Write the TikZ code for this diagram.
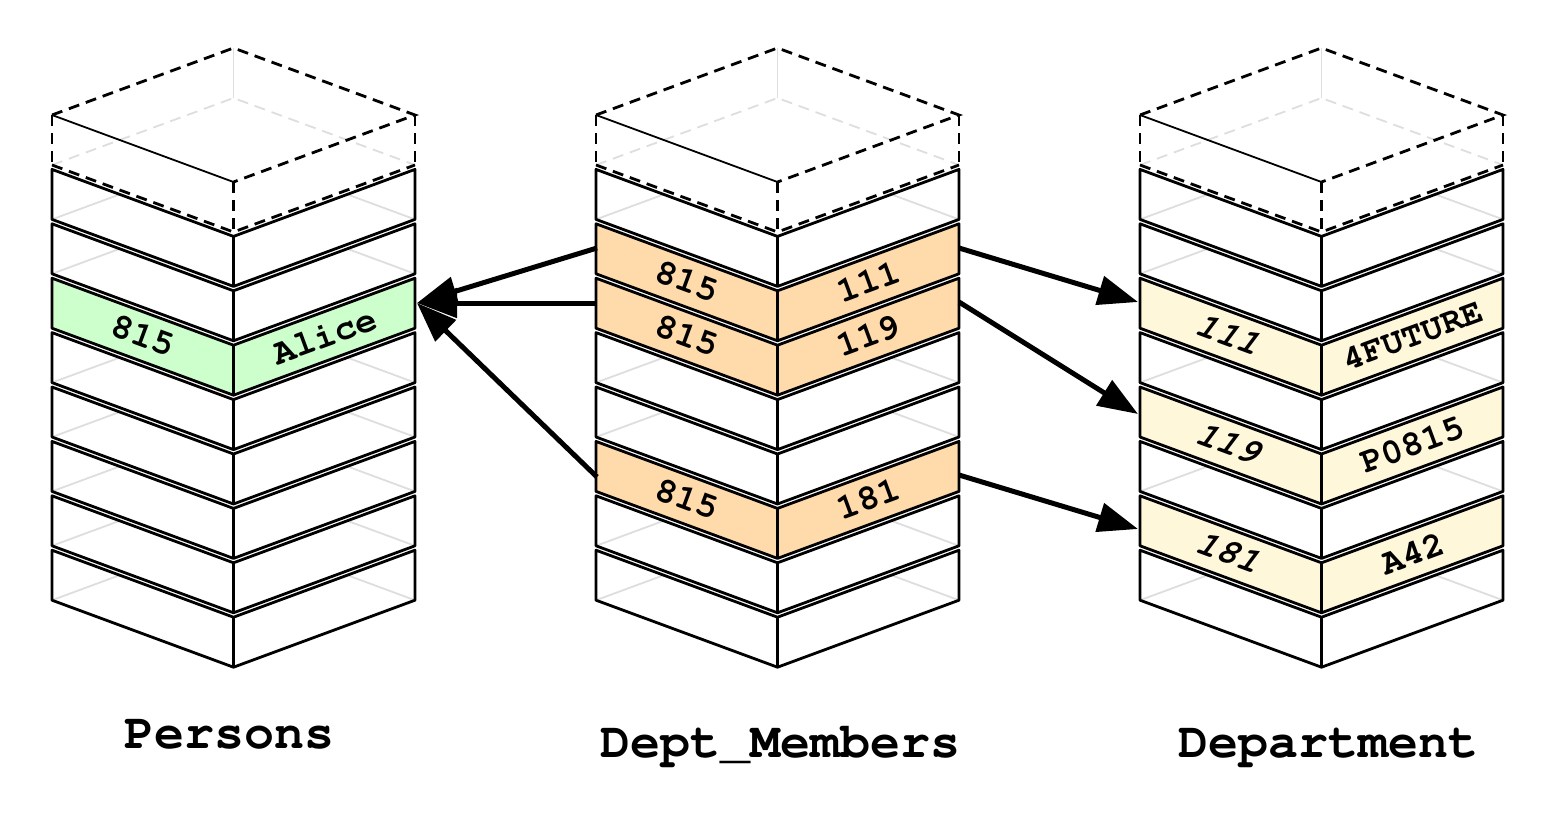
\documentclass[tikz,border=0pt]{standalone}
\usetikzlibrary{arrows.meta}
\newcommand\cour{\fontencoding{T1}\fontfamily{pcr}\selectfont}
\definecolor{cgreen}{RGB}{204,255,204}
\definecolor{corange}{RGB}{255,218,170}
\definecolor{cyellow}{RGB}{255,247,218}
\definecolor{chidden}{RGB}{222,222,222}
\tikzset{
  edge/.style={line width=2.8pt, line join=round},
  dashedge/.style={line width=2.8pt, dash pattern=on 11pt off 7pt},
  hidden/.style={chidden, line width=1.8pt},
  hiddendash/.style={chidden, line width=1.8pt, dash pattern=on 11pt off 7pt},
  celltext/.style={font=\cour\bfseries\fontsize{36}{36}\selectfont, inner sep=0pt},
  leftface/.style={celltext, rotate=-20.26},
  rightface/.style={celltext, rotate=20.26},
  tablelabel/.style={font=\cour\bfseries\fontsize{50}{50}\selectfont, anchor=base, inner sep=0pt},
  link/.style={line width=5pt, -{Triangle[length=40pt,width=29pt]}},
}
% #1 centre x, #2 top y of left edge, #3 fill colour, #4 hidden lines (1/0)
\newcommand\drawslab[4]{%
  \fill[#3] ({#1-181.5},#2) -- (#1,{#2+67}) -- ({#1+181.5},#2) -- ({#1+181.5},{#2+50}) -- (#1,{#2+117}) -- ({#1-181.5},{#2+50}) -- cycle;
  \ifnum#4=1
    \draw[hidden] ({#1-181.5},{#2+50}) -- ({#1-113.8},{#2+25});
    \draw[hidden] ({#1+181.5},{#2+50}) -- ({#1+113.8},{#2+25});
  \fi
  \draw[edge] ({#1-181.5},#2) -- (#1,{#2+67}) -- ({#1+181.5},#2) -- ({#1+181.5},{#2+50}) -- (#1,{#2+117}) -- ({#1-181.5},{#2+50}) -- cycle;
  \draw[edge] (#1,{#2+67}) -- (#1,{#2+117});
}
% dashed top box, #1 centre x
\newcommand\drawtop[1]{%
  \draw[hidden] (#1,48) -- (#1,98);
  \draw[hiddendash] ({#1-181.5},165) -- (#1,98) -- ({#1+181.5},165);
  \draw[dashedge] ({#1-181.5},115) -- (#1,48) -- ({#1+181.5},115) -- (#1,182);
  \draw[line width=1.8pt] ({#1-181.5},115) -- (#1,182);
  \draw[dashedge] ({#1-181.5},115) -- ({#1-181.5},165);
  \draw[dashedge] ({#1+181.5},115) -- ({#1+181.5},165);
  \draw[dashedge] (#1,182) -- (#1,232);
  \draw[dashedge] ({#1-181.5},165) -- (#1,232) -- ({#1+181.5},165);
}
\begin{document}
\begin{tikzpicture}[x=1pt,y=-1pt]
\useasboundingbox[fill=white] (0,0) rectangle (1563,819);
% slab tops: s_k = 115 + 54.4 k
\foreach \cx in {233.5,777.5,1321.5}{\drawtop{\cx}}
% Persons
\foreach \k in {1,2,4,5,6,7,8}{\drawslab{233.5}{115+54.4*\k}{white}{1}}
\drawslab{233.5}{278.2}{cgreen}{0}
% Dept_Members
\foreach \k in {1,4,5,7,8}{\drawslab{777.5}{115+54.4*\k}{white}{1}}
\drawslab{777.5}{223.8}{corange}{0}
\drawslab{777.5}{278.2}{corange}{0}
\drawslab{777.5}{441.4}{corange}{0}
% Department
\foreach \k in {1,2,4,6,8}{\drawslab{1321.5}{115+54.4*\k}{white}{1}}
\drawslab{1321.5}{278.2}{cyellow}{0}
\drawslab{1321.5}{387}{cyellow}{0}
\drawslab{1321.5}{495.8}{cyellow}{0}
% cell texts (face centres at x = cx -/+ 90.75, y = top + 58.5)
\node[leftface]  (p3l) at (142.75,335.7) {815};
\node[rightface] (p3r) at (324.25,335.7) {Alice};
\node[leftface]  (d2l) at (686.75,281.3) {815};
\node[rightface] (d2r) at (868.25,281.3) {111};
\node[leftface]  (d3l) at (686.75,335.7) {815};
\node[rightface] (d3r) at (868.25,335.7) {119};
\node[leftface]  (d6l) at (686.75,498.9) {815};
\node[rightface] (d6r) at (868.25,498.9) {181};
\node[leftface,xslant=0.3]  (t3l) at (1230.75,335.7) {111};
\node[rightface,font=\cour\bfseries\fontsize{35}{35}\selectfont] (t3r) at (1412.25,335.7) {4FUTURE};
\node[leftface,xslant=0.3]  (t5l) at (1230.75,444.5) {119};
\node[rightface] (t5r) at (1412.25,444.5) {P0815};
\node[leftface,xslant=0.3]  (t7l) at (1230.75,553.3) {181};
\node[rightface] (t7r) at (1412.25,553.3) {A42};
% connection points
\coordinate (pR3) at (417,303);
\coordinate (dL2) at (597,248);
\coordinate (dL3) at (597,303);
\coordinate (dL6) at (597,477);
\coordinate (dR2) at (959,248);
\coordinate (dR3) at (959,302);
\coordinate (dR6) at (959,475);
\coordinate (tL3) at (1138,302);
\coordinate (tL5) at (1138,414);
\coordinate (tL7) at (1138,529);
\draw[link] (dL2) -- (pR3);
\draw[link] (dL3) -- (pR3);
\draw[link] (dL6) -- (pR3);
\draw[link] (dR2) -- (tL3);
\draw[link] (dR3) -- (tL5);
\draw[link] (dR6) -- (tL7);
% table names
\node[tablelabel] (lp) at (229,748) {Persons};
\node[tablelabel] (ld) at (780,757) {Dept\_Members};
\node[tablelabel] (lt) at (1328.5,757) {Department};
\end{tikzpicture}
\end{document}
